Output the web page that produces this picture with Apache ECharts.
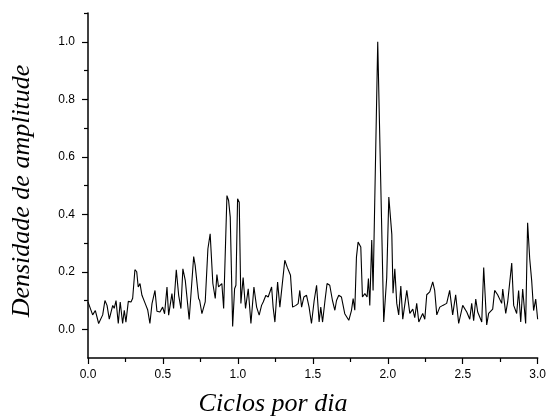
<!DOCTYPE html>
<html>
<head>
<meta charset="utf-8">
<script src="https://cdn.jsdelivr.net/npm/echarts@6/dist/echarts.min.js"></script>
<style>
html,body{margin:0;padding:0;background:#fff;}
#chart{width:549px;height:419px;}
</style>
</head>
<body>
<div id="chart"></div>
<script>
// Frequency (cycles per day) and amplitude density
var freq = [0.000,0.031,0.049,0.071,0.098,0.113,0.127,0.142,0.165,0.175,0.187,0.202,0.215,0.231,0.242,0.253,0.269,0.287,0.298,0.313,0.325,0.335,0.347,0.360,0.369,0.382,0.398,0.413,0.427,0.447,0.460,0.480,0.498,0.511,0.527,0.538,0.560,0.571,0.589,0.605,0.620,0.633,0.649,0.675,0.705,0.715,0.738,0.745,0.760,0.782,0.800,0.815,0.822,0.833,0.849,0.860,0.871,0.882,0.893,0.905,0.927,0.938,0.949,0.965,0.978,0.987,0.998,1.009,1.020,1.035,1.051,1.069,1.087,1.107,1.125,1.142,1.158,1.169,1.187,1.202,1.225,1.235,1.247,1.265,1.280,1.313,1.329,1.340,1.351,1.365,1.387,1.402,1.413,1.425,1.440,1.458,1.475,1.491,1.509,1.525,1.542,1.553,1.565,1.580,1.595,1.613,1.631,1.647,1.658,1.673,1.691,1.713,1.725,1.740,1.758,1.769,1.780,1.791,1.802,1.820,1.831,1.847,1.862,1.871,1.880,1.893,1.902,1.933,1.973,1.993,2.007,2.027,2.035,2.047,2.060,2.073,2.087,2.100,2.127,2.147,2.167,2.180,2.193,2.207,2.233,2.247,2.260,2.280,2.300,2.313,2.327,2.347,2.367,2.393,2.413,2.433,2.453,2.473,2.500,2.527,2.547,2.560,2.573,2.587,2.600,2.627,2.640,2.660,2.673,2.700,2.713,2.733,2.760,2.767,2.787,2.800,2.827,2.840,2.860,2.873,2.887,2.900,2.920,2.933,2.947,2.960,2.973,2.987,3.000];
var amp = [0.095,0.05,0.065,0.02,0.05,0.10,0.083,0.035,0.083,0.073,0.10,0.02,0.095,0.02,0.066,0.025,0.097,0.095,0.108,0.207,0.20,0.147,0.159,0.118,0.124,0.089,0.068,0.02,0.089,0.135,0.0625,0.06,0.077,0.054,0.147,0.049,0.124,0.072,0.207,0.118,0.072,0.21,0.17,0.034,0.253,0.222,0.107,0.10,0.054,0.095,0.28,0.332,0.338,0.159,0.107,0.19,0.147,0.153,0.159,0.072,0.465,0.448,0.39,0.01,0.141,0.153,0.454,0.442,0.09,0.18,0.072,0.141,0.02,0.147,0.077,0.049,0.083,0.095,0.118,0.112,0.147,0.077,0.025,0.164,0.077,0.24,0.216,0.216,0.188,0.077,0.083,0.089,0.135,0.077,0.112,0.118,0.077,0.02,0.10,0.153,0.025,0.077,0.025,0.095,0.159,0.153,0.10,0.066,0.10,0.118,0.112,0.054,0.06,0.031,0.066,0.107,0.066,0.251,0.303,0.286,0.112,0.124,0.112,0.176,0.083,0.31,0.135,1.0,0.025,0.18,0.46,0.33,0.125,0.21,0.09,0.05,0.15,0.035,0.135,0.055,0.07,0.04,0.09,0.025,0.055,0.035,0.12,0.13,0.165,0.135,0.05,0.077,0.083,0.09,0.135,0.05,0.12,0.02,0.083,0.06,0.035,0.09,0.03,0.105,0.06,0.025,0.215,0.015,0.055,0.07,0.135,0.12,0.09,0.14,0.055,0.095,0.23,0.083,0.055,0.135,0.025,0.14,0.02,0.37,0.245,0.17,0.065,0.105,0.035];
var yLabelValues = [0.0, 0.2, 0.4, 0.6, 0.8, 1.0];
var yMinorValues = [0.1, 0.3, 0.5, 0.7, 0.9, 1.1];
var xTitle = 'Ciclos por dia';
var yTitle = 'Densidade de amplitude';

var seriesData = freq.map(function (f, i) { return [f, amp[i]]; });

var chart = echarts.init(document.getElementById('chart'), null, {renderer: 'canvas'});
var labelFont = {color: '#000', fontFamily: 'Liberation Sans, Arial, sans-serif', fontSize: 12};
chart.setOption({
  animation: false,
  backgroundColor: '#fff',
  grid: {left: 88, right: 11, top: 13, bottom: 61, containLabel: false},
  xAxis: {
    type: 'value', min: 0, max: 3, interval: 0.5,
    axisLine: {show: true, onZero: false, lineStyle: {color: '#000', width: 1.5}},
    axisTick: {show: true, inside: false, length: 6, lineStyle: {color: '#000', width: 1.2}},
    minorTick: {show: true, splitNumber: 2, length: 4, lineStyle: {color: '#000', width: 1.2}},
    splitLine: {show: false},
    axisLabel: Object.assign({margin: 11, formatter: function (v) { return v.toFixed(1); }}, labelFont)
  },
  yAxis: [{
    type: 'value', min: -0.1, max: 1.1, position: 'left',
    axisLine: {show: true, onZero: false, lineStyle: {color: '#000', width: 1.5}},
    axisTick: {show: true, inside: false, length: 6, customValues: yLabelValues, lineStyle: {color: '#000', width: 1.2}},
    splitLine: {show: false},
    axisLabel: Object.assign({margin: 13, customValues: yLabelValues, formatter: function (v) { return (+v).toFixed(1); }}, labelFont)
  }, {
    type: 'value', min: -0.1, max: 1.1, position: 'left', offset: 0,
    axisLine: {show: false},
    axisTick: {show: true, inside: false, length: 4, customValues: yMinorValues, lineStyle: {color: '#000', width: 1.2}},
    splitLine: {show: false},
    axisLabel: {show: false}
  }],
  series: [{
    type: 'line', data: seriesData, yAxisIndex: 0,
    showSymbol: false, symbol: 'none',
    lineStyle: {color: '#000', width: 1.1},
    clip: false
  }],
  graphic: [{
    type: 'text', left: null, x: 273, y: 404,
    style: {text: xTitle, font: 'italic 26px "Liberation Serif", "Times New Roman", serif', fill: '#000', textAlign: 'center', textVerticalAlign: 'middle'}
  }, {
    type: 'text', x: 22, y: 191, rotation: Math.PI / 2,
    style: {text: yTitle, font: 'italic 26px "Liberation Serif", "Times New Roman", serif', fill: '#000', textAlign: 'center', textVerticalAlign: 'middle'}
  }]
});
</script>
</body>
</html>
